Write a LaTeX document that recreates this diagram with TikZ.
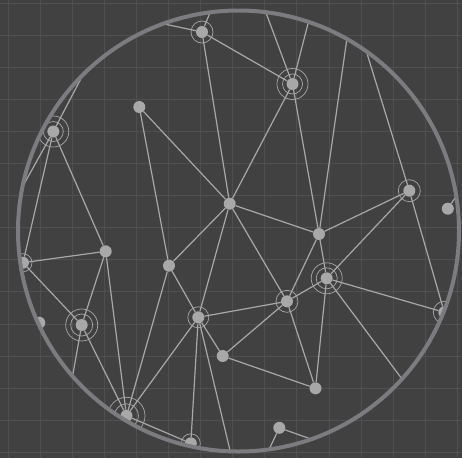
\documentclass[tikz,border=0pt]{standalone}
\usepackage{xcolor}
\usepackage{tikz}
\definecolor{boardbg}{HTML}{414141}
\definecolor{gridgray}{HTML}{4F4F4F}
\definecolor{meshgray}{HTML}{A8A8A8}
\definecolor{rimgray}{HTML}{7C7C80}

\begin{document}
\begin{tikzpicture}[x=1pt, y=-1pt,
    dot/.style={circle, fill=meshgray, inner sep=0pt, minimum size=12pt},
    link/.style={draw=meshgray, line width=1.2pt},
    halo/.style={draw=meshgray, line width=0.7pt},
    gridrule/.style={draw=gridgray, line width=1pt}]
    \useasboundingbox (0,0) rectangle (462,458);
    \fill[boardbg] (0,0) rectangle (462,458);
    \foreach \k in {0,...,14} {
        \draw[gridrule] ({8+32.1*\k},0) -- ({8+32.1*\k},458);
        \draw[gridrule] (0,{3+32.1*\k}) -- (462,{3+32.1*\k});
    }

    \begin{scope}
    \clip (238.5,231) circle[radius=220.5];
    \node[dot] (peak) at (202,32) {};
    \node[dot] (north) at (292.5,84) {};
    \node[dot] (loner) at (139.3,107) {};
    \node[dot] (west) at (53.3,131.5) {};
    \node[dot] (hub) at (229.7,203.7) {};
    \node[dot] (east) at (409.3,190.7) {};
    \node[dot] (rim) at (447.8,208.7) {};
    \node[dot] (mid) at (319,234) {};
    \node[dot] (left) at (105.7,251.3) {};
    \node[dot] (inner) at (169,265.7) {};
    \node[dot] (edgew) at (23,262.7) {};
    \node[dot] (beacon) at (326.7,278.3) {};
    \node[dot] (relay) at (287,301.3) {};
    \node[dot] (southwest) at (81.7,325) {};
    \node[dot] (stub) at (39.3,322.7) {};
    \node[dot] (core) at (198.3,317.3) {};
    \node[dot] (drop) at (222.7,356) {};
    \node[dot] (anchor) at (315.5,388.3) {};
    \node[dot] (base) at (126.5,415.8) {};
    \node[dot] (floor) at (190.8,443.3) {};
    \node[dot] (spur) at (279.3,427.8) {};
    \node[dot] (edgee) at (444.3,312.3) {};

    \coordinate (pA) at (150,21);
    \coordinate (pB) at (214,3);
    \coordinate (pC) at (262,2);
    \coordinate (pD) at (312,8);
    \coordinate (pE) at (350,17);
    \coordinate (pF) at (361,34);
    \coordinate (pG) at (463,186);
    \coordinate (pH) at (86,69);
    \coordinate (pI) at (14,202);
    \coordinate (pJ) at (414,395);
    \coordinate (pK) at (69,396);
    \coordinate (pL) at (233,463);
    \coordinate (pM) at (266,456);
    \coordinate (pN) at (325,444);

    \draw[link] (peak) -- (pA);
    \draw[link] (peak) -- (pB);
    \draw[link] (peak) -- (north);
    \draw[link] (peak) -- (hub);
    \draw[link] (north) -- (pC);
    \draw[link] (north) -- (pD);
    \draw[link] (north) -- (hub);
    \draw[link] (north) -- (mid);
    \draw[link] (mid) -- (pE);
    \draw[link] (east) -- (pF);
    \draw[link] (rim) -- (pG);
    \draw[link] (west) -- (pH);
    \draw[link] (west) -- (pI);
    \draw[link] (west) -- (edgew);
    \draw[link] (west) -- (left);
    \draw[link] (loner) -- (hub);
    \draw[link] (loner) -- (inner);
    \draw[link] (hub) -- (mid);
    \draw[link] (hub) -- (inner);
    \draw[link] (hub) -- (core);
    \draw[link] (hub) -- (relay);
    \draw[link] (east) -- (mid);
    \draw[link] (east) -- (beacon);
    \draw[link] (east) -- (edgee);
    \draw[link] (mid) -- (beacon);
    \draw[link] (mid) -- (relay);
    \draw[link] (left) -- (edgew);
    \draw[link] (left) -- (southwest);
    \draw[link] (left) -- (base);
    \draw[link] (inner) -- (core);
    \draw[link] (inner) -- (base);
    \draw[link] (edgew) -- (southwest);
    \draw[link] (beacon) -- (relay);
    \draw[link] (beacon) -- (anchor);
    \draw[link] (beacon) -- (edgee);
    \draw[link] (beacon) -- (pJ);
    \draw[link] (relay) -- (core);
    \draw[link] (relay) -- (drop);
    \draw[link] (relay) -- (anchor);
    \draw[link] (southwest) -- (base);
    \draw[link] (southwest) -- (pK);
    \draw[link] (core) -- (base);
    \draw[link] (core) -- (floor);
    \draw[link] (core) -- (drop);
    \draw[link] (core) -- (pL);
    \draw[link] (drop) -- (anchor);
    \draw[link] (base) -- (floor);
    \draw[link] (spur) -- (pM);
    \draw[link] (spur) -- (pN);

    \draw[halo] (peak.center) circle[radius=11];
    \draw[halo] (north.center) circle[radius=10] (north.center) circle[radius=15.5];
    \draw[halo] (west.center) circle[radius=10] (west.center) circle[radius=15.5];
    \draw[halo] (east.center) circle[radius=11];
    \draw[halo] (edgew.center) circle[radius=9];
    \draw[halo] (beacon.center) circle[radius=10.5] (beacon.center) circle[radius=15.5];
    \draw[halo] (relay.center) circle[radius=11];
    \draw[halo] (southwest.center) circle[radius=11] (southwest.center) circle[radius=16];
    \draw[halo] (core.center) circle[radius=10.5];
    \draw[halo] (base.center) circle[radius=12] (base.center) circle[radius=18.5];
    \draw[halo] (floor.center) circle[radius=9.5];
    \draw[halo] (edgee.center) circle[radius=11];
    \end{scope}

    \draw[rimgray, line width=4pt] (238.5,231) circle[radius=220.5];
\end{tikzpicture}
\end{document}
